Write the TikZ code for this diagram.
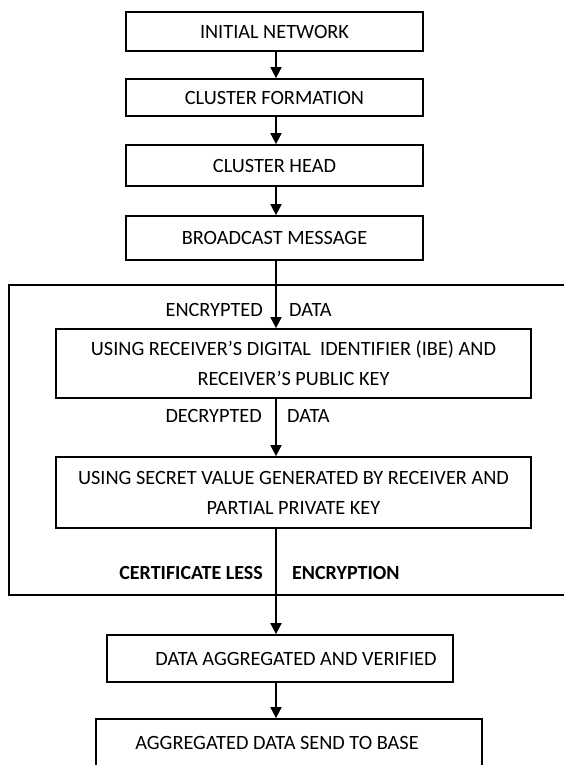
\documentclass[tikz,border=0pt]{standalone}
\usepackage{fontspec}
\setmainfont{Carlito}
\usetikzlibrary{arrows.meta}
\begin{document}
\begin{tikzpicture}[x=1pt,y=-1pt,
  box/.style={draw, line width=1.7pt, inner sep=0pt, align=center,
    font=\fontsize{20.3}{30}\selectfont},
  lbl/.style={inner sep=0pt, font=\fontsize{20.3}{24}\selectfont},
  blbl/.style={inner sep=0pt, font=\fontsize{20}{24}\selectfont\bfseries},
  arr/.style={line width=1.7pt, -{Triangle[width=11pt,length=11pt]}},
  frame/.style={line width=1.4pt}]
\useasboundingbox (0,0) rectangle (564,765);
\clip (0,0) rectangle (564,765);
\coordinate (ax) at (276,0);
\node[box, minimum width=297, minimum height=39] (b1) at (274.5,31.5) {INITIAL NETWORK};
\node[box, minimum width=297, minimum height=37] (b2) at (274.5,97.5) {CLUSTER FORMATION};
\node[box, minimum width=297, minimum height=41] (b3) at (274.5,165.5) {CLUSTER HEAD};
\node[box, minimum width=297, minimum height=44] (b4) at (274.5,238) {BROADCAST MESSAGE};
\node[box, minimum width=475, minimum height=69] (b5) at (293.5,363.5)
  {USING RECEIVER’S DIGITAL\ \ IDENTIFIER (IBE) AND\\RECEIVER’S PUBLIC KEY};
\node[box, minimum width=475, minimum height=71] (b6) at (293.5,492.5)
  {USING SECRET VALUE GENERATED BY RECEIVER AND\\PARTIAL PRIVATE KEY};
\node[box, minimum width=346, minimum height=47] (b7) at (280,658.5)
  {\hspace*{32pt}DATA AGGREGATED AND VERIFIED};
\node[box, minimum width=386, minimum height=48] (b8) at (289,743)
  {AGGREGATED DATA SEND TO BASE\hspace*{24pt}};
\coordinate (ftr) at (580,285);
\coordinate (ftl) at (9,285);
\coordinate (fbl) at (9,595);
\coordinate (fbr) at (580,595);
\draw[frame] (ftr) -- (ftl) -- (fbl) -- (fbr);
\draw[arr] (b1.south -| ax) -- (b2.north -| ax);
\draw[arr] (b2.south -| ax) -- (b3.north -| ax);
\draw[arr] (b3.south -| ax) -- (b4.north -| ax);
\draw[arr] (b4.south -| ax) -- (b5.north -| ax);
\draw[arr] (b5.south -| ax) -- (b6.north -| ax);
\draw[arr] (b6.south -| ax) -- (b7.north -| ax);
\draw[arr] (b7.south -| ax) -- (b8.north -| ax);
\node[lbl, anchor=east] (l1) at (263,310) {ENCRYPTED};
\node[lbl, anchor=west] (l2) at (289,310) {DATA};
\node[lbl, anchor=east] (l3) at (262,416) {DECRYPTED};
\node[lbl, anchor=west] (l4) at (287,416) {DATA};
\node[blbl, anchor=east] (l5) at (263,573) {CERTIFICATE LESS};
\node[blbl, anchor=west] (l6) at (292,573) {ENCRYPTION};
\end{tikzpicture}
\end{document}
